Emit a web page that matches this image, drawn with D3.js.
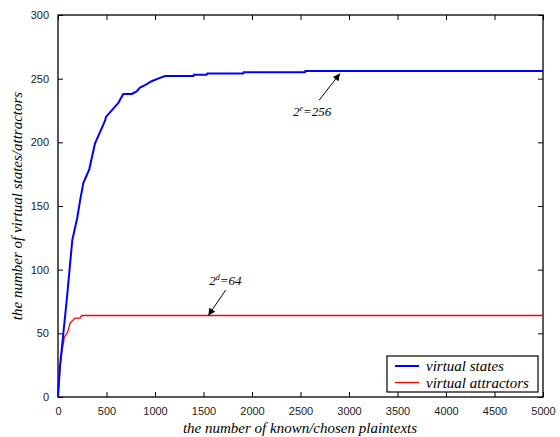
<!DOCTYPE html>
<html>
<head>
<meta charset="utf-8">
<script src="https://cdn.jsdelivr.net/npm/d3@7"></script>
<style>
body { margin: 0; background: #fff; }
.tick text { font-family: "Liberation Sans", Arial, sans-serif; font-size: 11px; fill: #222; }
.lbl { font-family: "Liberation Serif", "Times New Roman", serif; font-style: italic; }
</style>
</head>
<body>
<svg id="canvas" width="560" height="437"></svg>
<script>
// virtual states (blue)
var statesX = [0, 20, 55, 90, 147, 199, 227, 261, 323, 381, 433, 485, 495, 588, 622, 673, 760, 811, 845, 897, 966, 1031, 1103, 1395, 1400, 1533, 1540, 1910, 1915, 2546, 2550, 5000];
var statesY = [0, 24, 50, 76, 123, 141, 154, 168, 179, 199, 208, 217, 220, 228, 231, 238, 238, 240, 243, 245, 248, 250, 252, 252, 253, 253, 254, 254, 255, 255, 256, 256];
// virtual attractors (red)
var attrX = [0, 20, 38, 65, 100, 124, 175, 227, 244, 5000];
var attrY = [0, 22, 34, 47, 51, 58, 62, 62, 64, 64];

var xTicks = [0, 500, 1000, 1500, 2000, 2500, 3000, 3500, 4000, 4500, 5000];
var yTicks = [0, 50, 100, 150, 200, 250, 300];
var seriesNames = ["virtual states", "virtual attractors"];
var seriesColors = ["#0000ff", "#ff0000"];

var svg = d3.select("#canvas"),
  pl = 58, pr = 543, pt = 15, pb = 397;

var x = d3.scaleLinear().domain([0, 5000]).range([pl, pr]);
var y = d3.scaleLinear().domain([0, 300]).range([pb, pt]);

// frame
svg.append("rect")
  .attr("x", pl).attr("y", pt)
  .attr("width", pr - pl).attr("height", pb - pt)
  .attr("fill", "none").attr("stroke", "#000").attr("stroke-width", 1.3);

// axes with inward ticks
var gx = svg.append("g").attr("transform", "translate(0," + pb + ")")
  .call(d3.axisBottom(x).tickValues(xTicks).tickSize(-5).tickPadding(10).tickFormat(d3.format("d")));
var gxt = svg.append("g").attr("transform", "translate(0," + pt + ")")
  .call(d3.axisTop(x).tickValues(xTicks).tickSize(-5).tickFormat(""));
var gy = svg.append("g").attr("transform", "translate(" + pl + ",0)")
  .call(d3.axisLeft(y).tickValues(yTicks).tickSize(-5).tickPadding(9));
var gyr = svg.append("g").attr("transform", "translate(" + pr + ",0)")
  .call(d3.axisRight(y).tickValues(yTicks).tickSize(-5).tickFormat(""));
[gx, gxt, gy, gyr].forEach(function(g) {
  g.select(".domain").remove();
  g.selectAll(".tick line").attr("stroke", "#000");
});

var line = d3.line()
  .x(function(d) { return x(d[0]); })
  .y(function(d) { return y(d[1]); });

svg.append("path")
  .datum(d3.zip(attrX, attrY))
  .attr("d", line)
  .attr("fill", "none").attr("stroke", seriesColors[1]).attr("stroke-width", 1.3);

svg.append("path")
  .datum(d3.zip(statesX, statesY))
  .attr("d", line)
  .attr("fill", "none").attr("stroke", seriesColors[0]).attr("stroke-width", 2);

// arrows
svg.append("defs").append("marker")
  .attr("id", "ah").attr("viewBox", "0 0 10 10")
  .attr("refX", 10).attr("refY", 5)
  .attr("markerWidth", 9).attr("markerHeight", 7)
  .attr("markerUnits", "userSpaceOnUse")
  .attr("orient", "auto")
  .append("path").attr("d", "M0,0 L10,5 L0,10 Z").attr("fill", "#000");

var notes = [
  { tail: [2691, 233], tip: [2907, 254], text: "e", val: "=256", tx: 2423, ty: 221 },
  { tail: [1729, 84], tip: [1550, 64], text: "d", val: "=64", tx: 1560, ty: 88 }
];
notes.forEach(function(n) {
  svg.append("line")
    .attr("x1", x(n.tail[0])).attr("y1", y(n.tail[1]))
    .attr("x2", x(n.tip[0])).attr("y2", y(n.tip[1]))
    .attr("stroke", "#000").attr("stroke-width", 1)
    .attr("marker-end", "url(#ah)");
  var t = svg.append("text").attr("class", "lbl")
    .attr("x", x(n.tx)).attr("y", y(n.ty))
    .attr("font-size", 13);
  t.append("tspan").text("2");
  t.append("tspan").attr("dy", -5).attr("font-size", 8).text(n.text);
  t.append("tspan").attr("dy", 5).text(n.val);
});

// legend
var lg = svg.append("g");
lg.append("rect")
  .attr("x", 387).attr("y", 356).attr("width", 151).attr("height", 36)
  .attr("fill", "#fff").attr("stroke", "#000").attr("stroke-width", 1.2);
seriesNames.forEach(function(s, i) {
  var yy = 366 + i * 16.5;
  lg.append("line").attr("x1", 395).attr("x2", 419).attr("y1", yy).attr("y2", yy)
    .attr("stroke", seriesColors[i]).attr("stroke-width", i == 0 ? 2 : 1.3);
  lg.append("text").attr("class", "lbl")
    .attr("x", 426).attr("y", yy + 5)
    .attr("font-size", 15).text(s);
});

// axis labels
svg.append("text").attr("class", "lbl")
  .attr("x", 300).attr("y", 433).attr("text-anchor", "middle")
  .attr("font-size", 15).text("the number of known/chosen plaintexts");
svg.append("text").attr("class", "lbl")
  .attr("transform", "translate(22," + (pt + pb) / 2 + ") rotate(-90)")
  .attr("text-anchor", "middle")
  .attr("font-size", 15).text("the number of virtual states/attractors");
</script>
</body>
</html>
